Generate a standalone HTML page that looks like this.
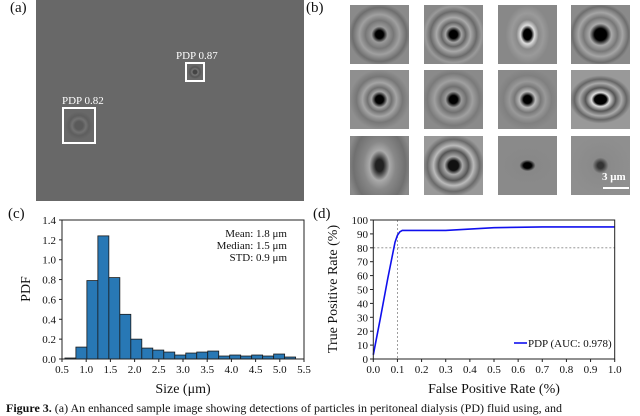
<!DOCTYPE html>
<html><head><meta charset="utf-8"><style>
body{margin:0;background:#fff;width:640px;height:410px;overflow:hidden;position:relative;font-family:"Liberation Serif",serif;color:#111}
.lab{position:absolute;font-size:15px}
.tile{position:absolute;width:59px;height:59px;background:#8a8a8a}
</style></head><body>
<div class="lab" style="left:10px;top:0px">(a)</div>
<div class="lab" style="left:306px;top:0px">(b)</div>
<div class="lab" style="left:8px;top:206px">(c)</div>
<div class="lab" style="left:313px;top:206px">(d)</div>

<div style="position:absolute;left:36px;top:0;width:268px;height:201px;background:#686868">
  <div style="position:absolute;left:140px;top:50px;color:#fff;font-size:11px">PDP 0.87</div>
  <div style="position:absolute;left:149px;top:62px;width:16px;height:16px;border:2px solid #fff;background:radial-gradient(circle,#444 0 2px,#777 3px,#555 5px,#686868 7px)"></div>
  <div style="position:absolute;left:26px;top:95px;color:#fff;font-size:11px">PDP 0.82</div>
  <div style="position:absolute;left:26px;top:107px;width:30px;height:33px;border:2px solid #fff;background:radial-gradient(circle,#5a5a5a 0 4px,#727272 7px,#5e5e5e 10px,#686868 14px)"></div>
</div>

<div id="tiles"></div>

<svg id="hist" width="640" height="410" style="position:absolute;left:0;top:0"></svg>
<div style="position:absolute;left:6px;top:401px;font-size:12px;white-space:nowrap"><b>Figure 3.</b> (a) An enhanced sample image showing detections of particles in peritoneal dialysis (PD) fluid using, and</div>

<script>
const tileStyles=[
 'radial-gradient(circle,#000 0 4px,#9a9a9a 8px,#777 14px,#a0a0a0 20px,#6e6e6e 27px,#8a8a8a 31px)',
 'radial-gradient(circle,#000 0 4px,#a5a5a5 8px,#666 12px,#aaa 17px,#6a6a6a 23px,#9a9a9a 28px,#888 31px)',
 'radial-gradient(ellipse 6px 8px,#000 0 4px,#ddd 7px,#8a8a8a 11px,#9a9a9a 16px,#888 22px)',
 'radial-gradient(circle,#000 0 6px,#aaa 11px,#777 17px,#a5a5a5 22px,#6e6e6e 28px,#8a8a8a 31px)',
 'radial-gradient(circle,#000 0 4px,#a5a5a5 8px,#707070 12px,#a5a5a5 17px,#777 23px,#8f8f8f 30px)',
 'radial-gradient(circle,#000 0 4px,#9a9a9a 8px,#707070 13px,#a0a0a0 19px,#7a7a7a 26px,#8a8a8a 31px)',
 'radial-gradient(circle,#000 0 4px,#bbb 8px,#777 13px,#999 18px,#808080 24px,#8a8a8a 31px)',
 'radial-gradient(ellipse 9px 7px,#000 0 6px,#ddd 9px,#555 15px,#aaa 21px,#666 26px,#999 31px)',
 'radial-gradient(ellipse 8px 12px,#222 0 4px,#aaa 10px,#888 16px,#707070 26px,#8a8a8a 32px)',
 'radial-gradient(circle,#111 0 5px,#aaa 9px,#555 15px,#bbb 20px,#6a6a6a 26px,#999 31px)',
 'radial-gradient(ellipse 7px 5px,#000 0 4px,#888 8px,#8a8a8a 30px)',
 'radial-gradient(circle,#333 0 3px,#8a8a8a 8px,#8f8f8f 30px)'];
const tx=[350,424,498,571], ty=[5,70,136];
const tc=document.getElementById('tiles');
tileStyles.forEach((s,i)=>{
  const d=document.createElement('div');
  d.className='tile';
  
  
  d.style.left=tx[i%4]+'px';d.style.top=ty[Math.floor(i/4)]+'px';d.style.background=s;
  tc.appendChild(d);
});
</script>
<div style="position:absolute;left:602px;top:171px;color:#fff;font-size:11px;font-weight:bold">3 μm</div>
<div style="position:absolute;left:603px;top:187px;width:26px;height:2px;background:#fff"></div>

<script>
const binStart=0.56, binWidth=0.227;
const pdfValues=[0.01,0.12,0.79,1.24,0.82,0.45,0.2,0.11,0.09,0.07,0.04,0.06,0.07,0.08,0.03,0.04,0.03,0.04,0.03,0.05,0.02];
const histXTicks=[0.5,1.0,1.5,2.0,2.5,3.0,3.5,4.0,4.5,5.0,5.5];
const histYTicks=[0.0,0.2,0.4,0.6,0.8,1.0,1.2,1.4];
const rocFpr=[0,0.03,0.06,0.09,0.1,0.11,0.12,0.15,0.3,0.5,0.7,1.0];
const rocTpr=[3,30,58,84,89,91.5,92.5,92.5,92.5,94.5,95,95];
const rocXTicks=[0,0.1,0.2,0.3,0.4,0.5,0.6,0.7,0.8,0.9,1.0];
const rocYTicks=[0,10,20,30,40,50,60,70,80,90,100];

const NS='http://www.w3.org/2000/svg';
const svg=document.getElementById('hist');
function el(tag,attrs,parent){const e=document.createElementNS(NS,tag);for(const k in attrs)e.setAttribute(k,attrs[k]);(parent||svg).appendChild(e);return e;}
function txt(x,y,s,anchor,size,name,extra){const t=el('text',Object.assign({x:x,y:y,'text-anchor':anchor,'font-size':size,'font-family':'Liberation Serif, serif',fill:'#111'},extra||{}));t.textContent=s;return t;}

const hx=v=>62+(v-0.5)/5*242, hy=v=>359-v/1.4*139;
pdfValues.forEach((v,i)=>{
  const x0=hx(binStart+i*binWidth), x1=hx(binStart+(i+1)*binWidth);
  const r=el('rect',{x:x0,y:hy(v),width:x1-x0,height:359-hy(v),fill:'#2878b5',stroke:'#1a1a1a','stroke-width':0.8});
  
  
});
el('rect',{x:62,y:220,width:242,height:139,fill:'none',stroke:'#222','stroke-width':1});
histXTicks.forEach(t=>{el('line',{x1:hx(t),x2:hx(t),y1:359,y2:362,stroke:'#222'});txt(hx(t),373,t.toFixed(1),'middle',11,'x-tick-label');});
histYTicks.forEach(t=>{el('line',{x1:59,x2:62,y1:hy(t),y2:hy(t),stroke:'#222'});txt(56,hy(t)+4,t.toFixed(1),'end',11,'y-tick-label');});
txt(183,393,'Size (μm)','middle',14,'x-axis-title');
txt(0,0,'PDF','middle',14,'y-axis-title',{transform:'translate(30,289) rotate(-90)'});
txt(287,237,'Mean: 1.8 μm','end',11,'stats-mean');
txt(287,249,'Median: 1.5 μm','end',11,'stats-median');
txt(287,261,'STD: 0.9 μm','end',11,'stats-std');

const rx=v=>373.3+v*241.4, ry=v=>359-v/100*139;
el('line',{x1:rx(0.1),x2:rx(0.1),y1:220,y2:359,stroke:'#888','stroke-dasharray':'2,2','stroke-width':0.8});
el('line',{x1:rx(0),x2:rx(1),y1:ry(80),y2:ry(80),stroke:'#888','stroke-dasharray':'2,2','stroke-width':0.8});
const pts=rocFpr.map((f,i)=>rx(f)+','+ry(rocTpr[i])).join(' ');
const pl=el('polyline',{points:pts,fill:'none',stroke:'#1010ee','stroke-width':1.6});


el('rect',{x:373.3,y:220,width:241.4,height:139,fill:'none',stroke:'#222','stroke-width':1});
rocXTicks.forEach(t=>{el('line',{x1:rx(t),x2:rx(t),y1:359,y2:362,stroke:'#222'});txt(rx(t),373,t.toFixed(1),'middle',11,'roc-x-tick-label');});
rocYTicks.forEach(t=>{el('line',{x1:370,x2:373.3,y1:ry(t),y2:ry(t),stroke:'#222'});txt(368,ry(t)+4,String(t),'end',11,'roc-y-tick-label');});
txt(494,393,'False Positive Rate (%)','middle',14,'roc-x-axis-title');
txt(0,0,'True Positive Rate (%)','middle',14,'roc-y-axis-title',{transform:'translate(337,289) rotate(-90)'});
const ll=el('line',{x1:514,x2:527,y1:343,y2:343,stroke:'#1010ee','stroke-width':1.6});


txt(528,347,'PDP (AUC: 0.978)','start',11,'legend-entry');
</script>
</body></html>
